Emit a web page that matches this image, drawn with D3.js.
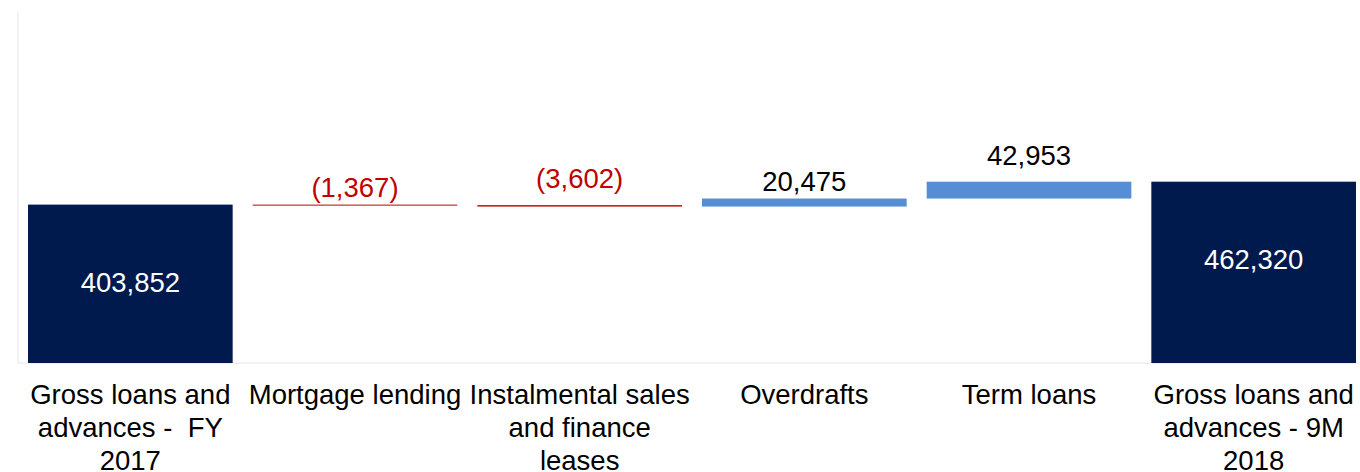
<!DOCTYPE html>
<html>
<head>
<meta charset="utf-8">
<script src="https://cdn.jsdelivr.net/npm/d3@7"></script>
<style>
  body { margin: 0; background: #fff; }
  svg text { font-family: "Liberation Sans", Arial, sans-serif; }
</style>
</head>
<body>
<svg id="chart"></svg>
<script>
// Data.
var categories = ["FY2017", "Mortgage", "Instalmental", "Overdrafts", "Term", "9M2018"];
var categoryLines = [
  ["Gross loans and", "advances -  FY", "2017"],
  ["Mortgage lending"],
  ["Instalmental sales", "and finance", "leases"],
  ["Overdrafts"],
  ["Term loans"],
  ["Gross loans and", "advances - 9M", "2018"]
];
var values = [403852, -1367, -3602, 20475, 42953, 462320];
var isTotal = [true, false, false, false, false, true];
var valueLabels = ["403,852", "(1,367)", "(3,602)", "20,475", "42,953", "462,320"];
var yMax = 895000;

var chart = {};
chart.draw = function() {
    const width = 1360, height = 472;
    const plotTop = 12, plotBottom = 363;

    // Build the waterfall steps.
    var run = 0;
    var steps = values.map(function(v, i) {
        var s;
        if (isTotal[i]) { s = { from: 0, to: v }; run = v; }
        else { s = { from: run, to: run + v }; run += v; }
        return { key: categories[i], value: v, total: isTotal[i], lo: Math.min(s.from, s.to), hi: Math.max(s.from, s.to), i: i };
    });

    var xScale = d3.scaleBand()
        .domain(categories)
        .range([18, 1366])
        .paddingInner(0.089)
        .paddingOuter(0.0445);

    var yScale = d3.scaleLinear()
        .domain([0, yMax])
        .range([plotBottom, plotTop]);

    var svg = d3.select("#chart")
        .attr("width", width)
        .attr("height", height);

    // Axis lines (no ticks).
    svg.append("line")
        .attr("x1", 18).attr("x2", 18)
        .attr("y1", yScale(yMax)).attr("y2", yScale(0))
        .attr("stroke", "#ececec").attr("stroke-width", 1.5);
    svg.append("line")
        .attr("x1", 18).attr("x2", width)
        .attr("y1", yScale(0)).attr("y2", yScale(0))
        .attr("stroke", "#e4e4e4").attr("stroke-width", 1);

    function barColor(d) {
        if (d.total) return "#001a4e";
        return d.value < 0 ? "#c00000" : "#558ed5";
    }

    svg.append("g").selectAll("rect")
        .data(steps)
        .enter().append("rect")
        .attr("x", function(d) { return xScale(d.key); })
        .attr("width", xScale.bandwidth())
        .attr("y", function(d) { return yScale(d.hi); })
        .attr("height", function(d) { return Math.max(1, yScale(d.lo) - yScale(d.hi)); })
        .attr("fill", barColor);

    // Value labels.
    svg.append("g").selectAll("text")
        .data(steps)
        .enter().append("text")
        .attr("x", function(d) { return xScale(d.key) + xScale.bandwidth() / 2; })
        .attr("y", function(d) {
            if (d.total) return yScale(d.hi) + 87;
            return yScale(d.hi) - (d.i % 2 === 0 ? 17 : 8);
        })
        .attr("text-anchor", "middle")
        .attr("font-size", "27.5px")
        .attr("fill", function(d) { return d.total ? "#ffffff" : (d.value < 0 ? "#c00000" : "#000000"); })
        .text(function(d) { return valueLabels[d.i]; });

    // Category labels.
    var cat = svg.append("g").selectAll("text")
        .data(categories)
        .enter().append("text")
        .attr("text-anchor", "middle")
        .attr("font-size", "27.5px")
        .attr("fill", "#000")
        .attr("y", 404)
        .attr("xml:space", "preserve")
        .style("white-space", "pre");

    cat.each(function(c, i) {
        var t = d3.select(this);
        var cx = xScale(c) + xScale.bandwidth() / 2;
        categoryLines[i].forEach(function(line, j) {
            t.append("tspan")
                .attr("x", cx)
                .attr("dy", j === 0 ? 0 : 33)
                .text(line);
        });
    });
};
chart.draw();
</script>
</body>
</html>
